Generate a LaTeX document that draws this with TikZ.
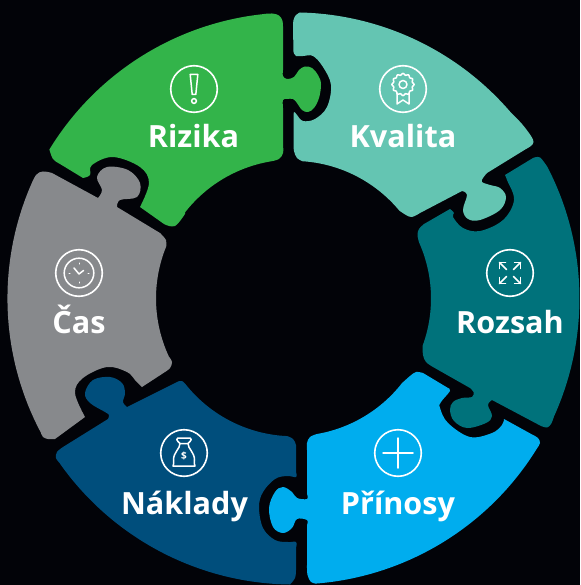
\documentclass[tikz,border=0pt]{standalone}
\usepackage{fontspec}
\setmainfont{Open Sans}
\definecolor{bgc}{HTML}{020308}
\definecolor{cgreen}{HTML}{33B44A}
\definecolor{cteal}{HTML}{64C5B2}
\definecolor{cpetrol}{HTML}{00727B}
\definecolor{cblue}{HTML}{00ADEE}
\definecolor{cnavy}{HTML}{004E7C}
\definecolor{cgrey}{HTML}{87898C}
\tikzset{
  cv/.style={smooth,tension=.6},
  lab/.style={text=white,anchor=base,inner sep=0pt,font=\fontsize{30.6}{31}\bfseries\selectfont},
  ring/.style={draw=white,line width=1.6pt,fill=none},
  ico/.style={draw=white,line width=1.5pt,fill=none,line cap=round,line join=round}
}
\begin{document}
\begin{tikzpicture}[x=1pt,y=-1pt]
\useasboundingbox (0,0) rectangle (580,585);
\fill[bgc] (0,0) rectangle (580,585);
% Rizika
\fill[cgreen] (49.4,149.5) arc[start angle=211.4,end angle=263.7,radius=286]
 -- plot[cv] coordinates {(262.1,14.2)(272,13.5)(279,15.5)(282.5,21)(283,30)}
 -- plot[cv] coordinates {(283,70)(283,76)(287,79)(294,77)(299,70)(305,66.5)(312,68)(318,75)(321,84)(319,98)(314,108)(308,112)(302,110)(297,103)(293,99)(287,99)(283,100)(283,108)}
 -- plot[cv] coordinates {(283,145)(283,153)(279,159)(270,161.5)}
 arc[start angle=260.2,end angle=218,radius=137.5]
 -- plot[cv] coordinates {(185.1,213.8)(180,221)(175,226)(169,226)(164,224)}
 -- plot[cv] coordinates {(140,207)(149,183)(140,167)(113,157)(92,165)(90,175)(83,178)}
 -- plot[cv] coordinates {(60,164)(53,159)(49.4,149.5)} -- cycle;
% Kvalita
\fill[cteal] (300,12.5) arc[start angle=271.3,end angle=319.2,radius=286]
 -- plot[cv] coordinates {(510,111.6)(522,124)(531,136)(533.5,142)(531,146)(526,149)}
 -- plot[cv] coordinates {(487,173)(483,178)(482,182)(490,185)(500,188)(506,197)(500,210)(480,220)(468,219)(463,210)(467,195)(462,191)}
 -- plot[cv] coordinates {(420,213)(412,217)(406,215)(399.3,210.6)}
 arc[start angle=320.3,end angle=274,radius=137.5]
 -- plot[cv] coordinates {(303,161.4)(297,158)(294,151)(293.5,143)}
 -- plot[cv] coordinates {(293.5,120)(294,112)(297,115)(303,121)(315,119)(327,107)(331,85)(323,67)(313,56)(303,56)(296,56)(293.5,52)}
 -- plot[cv] coordinates {(293,28)(293.5,20)(296,15)(300,12.5)} -- cycle;
% Rozsah
\fill[cpetrol] (547.6,167.3) arc[start angle=332.7,end angle=384.5,radius=286]
 -- plot[cv] coordinates {(553.8,417.1)(551,424)(547,427.5)(541,426)}
 -- plot[cv] coordinates {(492,400)(488,405)(492,416)(486,423)(467,428)(454,421)(450,410)(453,402)(462,398)(472,397)(473.5,392)(470,388)}
 -- plot[cv] coordinates {(433,367)(426,362)(423,355)(422.7,345.5)}
 arc[start angle=20,end angle=-24,radius=137.5]
 -- plot[cv] coordinates {(419.1,242.6)(417.5,235)(419,229)(424,224)}
 -- plot[cv] coordinates {(450,209)(454,213)(453,217)(463,228)(480,231)(503,220)(514,200)(507,180)(505,175)}
 -- plot[cv] coordinates {(533,158)(540,157.5)(547.6,167.3)} -- cycle;
% Prinosy
\fill[cblue] (537.3,447.9) arc[start angle=31.5,end angle=85.5,radius=286]
 -- plot[cv] coordinates {(316,583.6)(311,582)(307.5,575)(307,565)}
 -- plot[cv] coordinates {(307,525)(307,520)(297,519)(292,528)(283,533)(273,527)(269,508)(275,492)(283,487)(292,492)(297,498)(307,499)(307,494)}
 -- plot[cv] coordinates {(307,450)(307,443)(310,437)(317,434)}
 arc[start angle=80.2,end angle=38,radius=137.5]
 -- plot[cv] coordinates {(401.9,383.2)(410,376)(416,372)(423,373)}
 -- plot[cv] coordinates {(448,388)(450,391)(441,402)(440,408)(448,423)(470,437)(492,433)(502,425)(504,419)}
 -- plot[cv] coordinates {(533,435)(538,438)(540,443)(537.3,447.9)} -- cycle;
% Naklady
\fill[cnavy] (290,584.5) arc[start angle=90.7,end angle=144.8,radius=286]
 -- plot[cv] coordinates {(59.9,463.3)(56,458)(57,452)(63,447)}
 -- plot[cv] coordinates {(108,419)(109,415)(105,412)(90,403)(85,393)(93,380)(110,377)(122,383)(125,393)(123,402)(127,407)}
 -- plot[cv] coordinates {(177,382)(182,381)(187,386)}
 arc[start angle=140.6,end angle=92.7,radius=137.5]
 -- plot[cv] coordinates {(287,436)(293,439)(296,445)(296,452)}
 -- plot[cv] coordinates {(296,472)(296,477)(287,476)(275,479)(263,492)(259,507)(263,528)(275,540)(288,542)(296,542)(296,548)}
 -- plot[cv] coordinates {(296,570)(295,578)(290,584.5)} -- cycle;
% Cas
\fill[cgrey] (40.7,432.3) arc[start angle=152.1,end angle=203,radius=286]
 -- plot[cv] coordinates {(30.2,186.8)(36,175)(43,171.5)(52,173)}
 -- plot[cv] coordinates {(98,198)(102,190)(97,177)(107,167)(128,170)(140,183)(137,197)(120,200)(117,207)}
 -- plot[cv] coordinates {(160,233)(166,240)(166.2,246.5)}
 arc[start angle=202.2,end angle=155,radius=137.5]
 -- plot[cv] coordinates {(168.9,356.6)(172,362)(170,368)(165,372)}
 -- plot[cv] coordinates {(142,387)(135,380)(127,372)(107,367)(83,378)(75,393)(85,417)}
 -- plot[cv] coordinates {(55,439)(48,439)(43,437)(40.7,432.3)} -- cycle;
% Labels
\node[lab] (rizika) at (193.5,148) {Rizika};
\node[lab] (kvalita) at (403,148) {Kvalita};
\node[lab] (rozsah) at (510,333) {Rozsah};
\node[lab] (cas) at (79,333) {Čas};
\node[lab] (naklady) at (184.5,514) {Náklady};
\node[lab] (prinosy) at (398,514) {Přínosy};
% Icon rings
\draw[ring] (194,89) circle[radius=23.3];
\draw[ring] (403,89) circle[radius=23.3];
\draw[ring] (510,273) circle[radius=23.3];
\draw[ring] (398,453) circle[radius=23.3];
\draw[ring] (184,453) circle[radius=23.3];
\draw[ring] (79,273) circle[radius=23.3];
% Exclamation
\draw[ico] (190.2,74.5) -- (197.8,74.5) -- (195.8,94.5) -- (192.2,94.5) -- cycle;
\draw[ico] (194,101) circle[radius=2.4];
% Rosette
\draw[ico] plot[smooth,domain=0:360,samples=73] ({403+(10.3+0.8*cos(12*\x))*cos(\x)},{84.5+(10.3+0.8*cos(12*\x))*sin(\x)}) -- cycle;
\draw[ico] (403,84.5) circle[radius=4];
\draw[ico] (397,93) -- (397,104) -- (403,100) -- (409,104) -- (409,93);
% Arrows
\foreach \sx/\sy in {1/1,1/-1,-1/1,-1/-1}{
  \draw[ico] ({510+3.5*\sx},{273+3.5*\sy}) -- ({510+10.5*\sx},{273+10.5*\sy});
  \draw[ico] ({510+10.5*\sx},{273+4.5*\sy}) -- ({510+10.5*\sx},{273+10.5*\sy}) -- ({510+4.5*\sx},{273+10.5*\sy});
}
% Plus
\draw[ico] (398,438) -- (398,468) (383,453) -- (413,453);
% Money bag
\draw[ico] (180,443.5) -- (188,443.5) (180,443.5) .. controls (176,440) and (176,438) .. (178,438) -- (190,438) .. controls (192,438) and (192,440) .. (188,443.5);
\draw[ico] (180,443.5) .. controls (180,449) and (173.5,452) .. (173.5,460) .. controls (173.5,463) and (174,465) .. (173,466) -- (195,466) .. controls (194,465) and (194.5,463) .. (194.5,460) .. controls (194.5,452) and (188,449) .. (188,443.5);
\node[text=white,inner sep=0pt,font=\fontsize{10}{10}\bfseries\selectfont] (dollar) at (184,456) {\$};
% Clock
\draw[ico] (79,273) circle[radius=14.8];
\draw[ico] (74,268) -- (79,274) -- (83.5,270.5);
\draw[ico,line width=1pt] (79,263) -- (79,264) (79,282) -- (79,283) (69,273.5) -- (70,273.5) (88,273.5) -- (89,273.5);
\end{tikzpicture}
\end{document}
